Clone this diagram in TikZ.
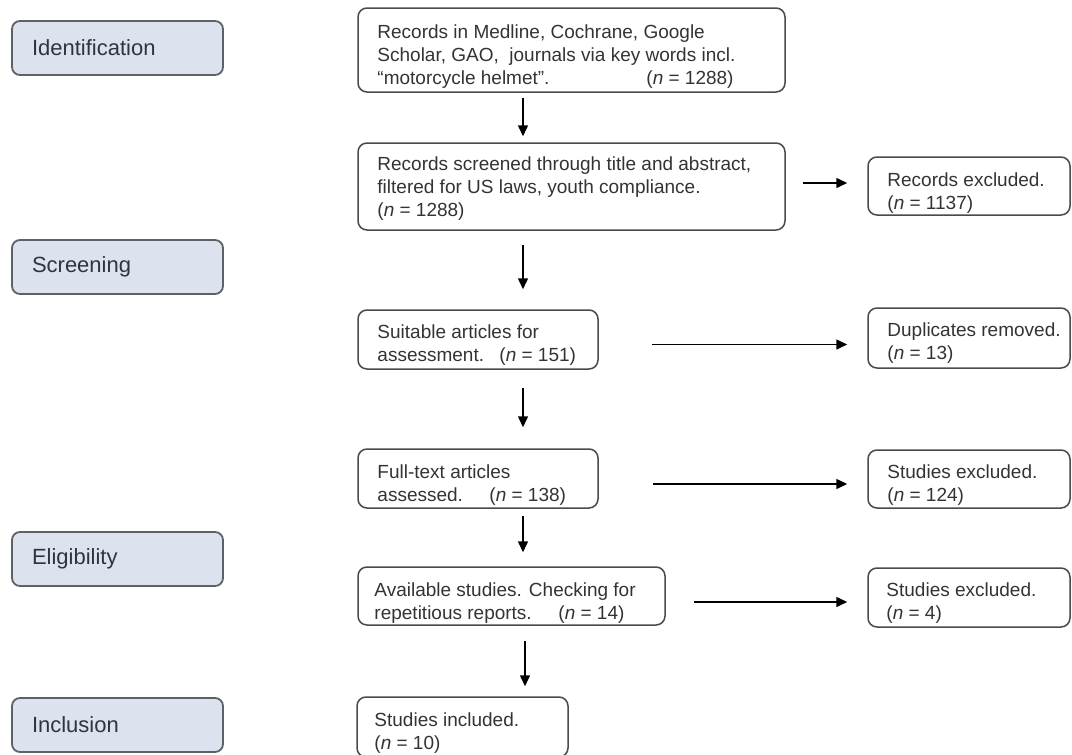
\documentclass[tikz,border=0pt]{standalone}
\usepackage{fontspec}
\setmainfont{Liberation Sans}
\usetikzlibrary{arrows.meta,calc}
\definecolor{labelfill}{HTML}{DCE3EF}
\definecolor{labeldraw}{HTML}{5E6166}
\definecolor{labeltext}{HTML}{30343C}
\definecolor{boxdraw}{HTML}{4A4A4A}
\definecolor{boxtext}{HTML}{333333}
\tikzset{
  stage/.style={draw=labeldraw, fill=labelfill, line width=1.8pt, rounded corners=8pt,
    inner sep=0pt, minimum width=211pt, minimum height=54pt, text width=171pt, align=left,
    text=labeltext, font=\fontsize{22}{26}\selectfont},
  flowbox/.style={draw=boxdraw, line width=1.5pt, rounded corners=9pt, inner sep=0pt},
  flowtext/.style={anchor=north west, inner sep=0pt, text=boxtext, align=left,
    font=\fontsize{19}{23}\selectfont},
  arr/.style={-{Triangle[length=11pt,width=10pt]}, line width=1.5pt, black}
}
\newcommand{\nn}{\textit{n}}
\begin{document}
\begin{tikzpicture}[x=1pt,y=-1pt]
\useasboundingbox (0,0) rectangle (1072,755);
% stage labels
\node[stage] (sid) at (117.5,48) {Identification};
\node[stage] (ssc) at (117.5,267) {Screening};
\node[stage] (sel) at (117.5,559) {Eligibility};
\node[stage] (sin) at (117.5,725) {Inclusion};
% main boxes
\node[flowbox, minimum width=427pt, minimum height=84pt] (b1) at (571.5,50) {};
\node[flowbox, minimum width=427pt, minimum height=87pt] (b2) at (571.5,186.5) {};
\node[flowbox, minimum width=240pt, minimum height=59pt] (b3) at (478,339.5) {};
\node[flowbox, minimum width=240pt, minimum height=59pt] (b4) at (478,478.5) {};
\node[flowbox, minimum width=307pt, minimum height=58pt] (b5) at (511.5,596) {};
\node[flowbox, minimum width=211pt, minimum height=60pt] (b6) at (462.5,727) {};
% right boxes
\node[flowbox, minimum width=202pt, minimum height=58pt] (r1) at (969,186) {};
\node[flowbox, minimum width=202pt, minimum height=60pt] (r2) at (969,338) {};
\node[flowbox, minimum width=202pt, minimum height=58pt] (r3) at (969,479) {};
\node[flowbox, minimum width=202pt, minimum height=59pt] (r4) at (969,597.5) {};
% texts
\node[flowtext] (t1) at ([shift={(20pt,-17pt)}]b1.north west)
  {Records in Medline, Cochrane, Google\\Scholar, GAO,\ \ journals via key words incl.\\\makebox[269pt][l]{“motorcycle helmet”.}(\nn{} = 1288)};
\node[flowtext] (t2) at ([shift={(20pt,-14pt)}]b2.north west)
  {Records screened through title and abstract,\\filtered for US laws, youth compliance.\\(\nn{} = 1288)};
\node[flowtext] (t3) at ([shift={(20pt,-15pt)}]b3.north west)
  {Suitable articles for\\\makebox[122pt][l]{assessment.}(\nn{} = 151)};
\node[flowtext] (t4) at ([shift={(20pt,-16pt)}]b4.north west)
  {Full-text articles\\\makebox[112pt][l]{assessed.}(\nn{} = 138)};
\node[flowtext] (t5) at ([shift={(17pt,-16pt)}]b5.north west)
  {Available studies. Checking for\\\makebox[184pt][l]{repetitious reports.}(\nn{} = 14)};
\node[flowtext] (t6) at ([shift={(18pt,-16pt)}]b6.north west)
  {Studies included.\\(\nn{} = 10)};
\node[flowtext] (tr1) at ([shift={(20pt,-16pt)}]r1.north west)
  {Records excluded.\\(\nn{} = 1137)};
\node[flowtext] (tr2) at ([shift={(20pt,-15pt)}]r2.north west)
  {Duplicates removed.\\(\nn{} = 13)};
\node[flowtext] (tr3) at ([shift={(20pt,-15pt)}]r3.north west)
  {Studies excluded.\\(\nn{} = 124)};
\node[flowtext] (tr4) at ([shift={(19pt,-15pt)}]r4.north west)
  {Studies excluded.\\(\nn{} = 4)};
% vertical arrows
\draw[arr, shorten <=5pt, shorten >=6pt] ([xshift=-48.5pt]b1.south) -- ([xshift=-48.5pt]b1.south |- b2.north);
\draw[arr, shorten <=14pt, shorten >=20pt] ([xshift=-48.5pt]b2.south) -- ([xshift=-48.5pt]b2.south |- b3.north);
\draw[arr, shorten <=18pt, shorten >=21pt] ([xshift=45pt]b3.south) -- ([xshift=45pt]b3.south |- b4.north);
\draw[arr, shorten <=7pt, shorten >=14pt] ([xshift=45pt]b4.south) -- ([xshift=45pt]b4.south |- b5.north);
\draw[arr, shorten <=15pt, shorten >=10pt] ([xshift=13.5pt]b5.south) -- ([xshift=13.5pt]b5.south |- b6.north);
% horizontal arrows
\draw[arr, shorten <=17pt, shorten >=20pt] ([yshift=3.5pt]b2.east) -- ([yshift=3.5pt]b2.east -| r1.west);
\draw[arr, shorten <=53pt, shorten >=20pt] ([yshift=-5pt]b3.east) -- ([yshift=-5pt]b3.east -| r2.west);
\draw[arr, shorten <=54pt, shorten >=20pt] ([yshift=-5.5pt]b4.east) -- ([yshift=-5.5pt]b4.east -| r3.west);
\draw[arr, shorten <=28pt, shorten >=20pt] ([yshift=-6pt]b5.east) -- ([yshift=-6pt]b5.east -| r4.west);
\end{tikzpicture}
\end{document}
